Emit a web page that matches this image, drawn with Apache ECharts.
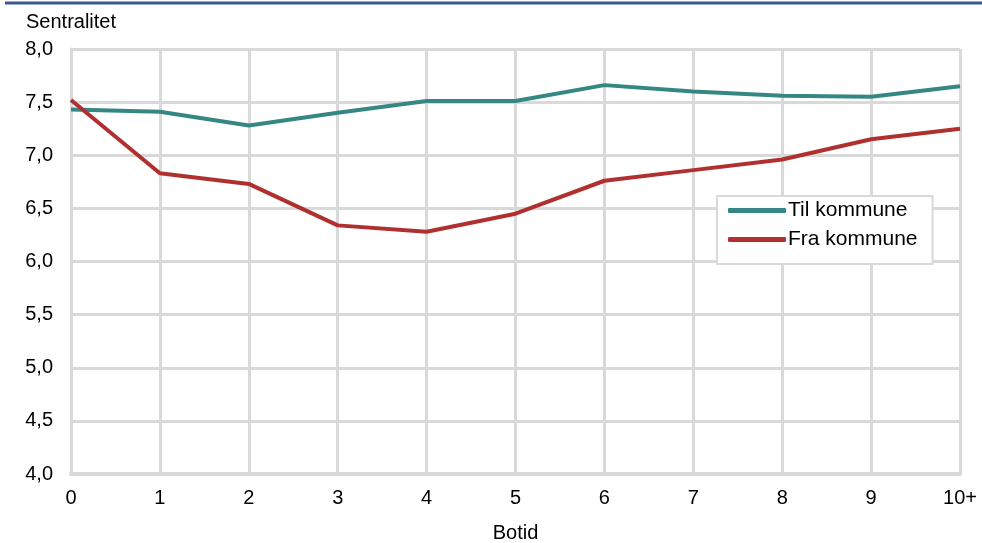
<!DOCTYPE html>
<html>
<head>
<meta charset="utf-8">
<script src="https://cdn.jsdelivr.net/npm/echarts@6/dist/echarts.min.js"></script>
<style>html,body{margin:0;padding:0;background:#fff}#c{width:982px;height:543px}</style>
</head>
<body>
<div id="c"></div>
<script>
var categories = ['0','1','2','3','4','5','6','7','8','9','10+'];
var tilKommune = [7.43, 7.41, 7.28, 7.40, 7.51, 7.51, 7.66, 7.60, 7.56, 7.55, 7.65];
var fraKommune = [7.52, 6.83, 6.73, 6.34, 6.28, 6.45, 6.76, 6.86, 6.96, 7.15, 7.25];
var seriesNames = ['Til kommune', 'Fra kommune'];

var chart = echarts.init(document.getElementById('c'));
var font = 'Liberation Sans, Arial, sans-serif';
chart.setOption({
  animation: false,
  graphic: [
    {type:'line', shape:{x1:5,y1:3,x2:982,y2:3}, style:{stroke:'#3B5A8F', lineWidth:3}},
    {type:'text', left:26, top:12, style:{text:'Sentralitet', font:'20px ' + font, fill:'#000'}}
  ],
  grid: {left:71, right:22, top:49, bottom:69, containLabel:false, outerBoundsMode:'none'},
  legend: {
    orient:'vertical', left:717, top:196,
    data: seriesNames,
    backgroundColor:'#fff', borderColor:'#d9d9d9', borderWidth:2,
    padding:[4,15,14,11], itemGap:8,
    itemWidth:58, itemHeight:5, icon:'roundRect',
    textStyle:{fontFamily:font, fontSize:21, lineHeight:20, color:'#000', padding:[0,0,0,-3]}
  },
  xAxis: {
    type:'category', data:categories, boundaryGap:false,
    name:'Botid', nameLocation:'middle', nameGap:49,
    nameTextStyle:{fontFamily:font, fontSize:20, color:'#000'},
    axisLine:{lineStyle:{color:'#d9d9d9', width:4}},
    axisTick:{show:false},
    axisLabel:{fontFamily:font, fontSize:20, color:'#000', margin:14},
    splitLine:{show:true, lineStyle:{color:'#d9d9d9', width:3}}
  },
  yAxis: {
    type:'value', min:4, max:8, interval:0.5,
    axisLine:{show:true, lineStyle:{color:'#d9d9d9', width:3}},
    axisTick:{show:false},
    axisLabel:{fontFamily:font, fontSize:20, color:'#000', margin:18,
      formatter:function(v){return v.toFixed(1).replace('.', ',');}},
    splitLine:{show:true, lineStyle:{color:'#d9d9d9', width:3}}
  },
  series: [
    {name:seriesNames[0], type:'line', data:tilKommune, symbol:'none',
     lineStyle:{color:'#358783', width:4}, itemStyle:{color:'#358783'}},
    {name:seriesNames[1], type:'line', data:fraKommune, symbol:'none',
     lineStyle:{color:'#B03030', width:4}, itemStyle:{color:'#B03030'}}
  ]
});
</script>
</body>
</html>
